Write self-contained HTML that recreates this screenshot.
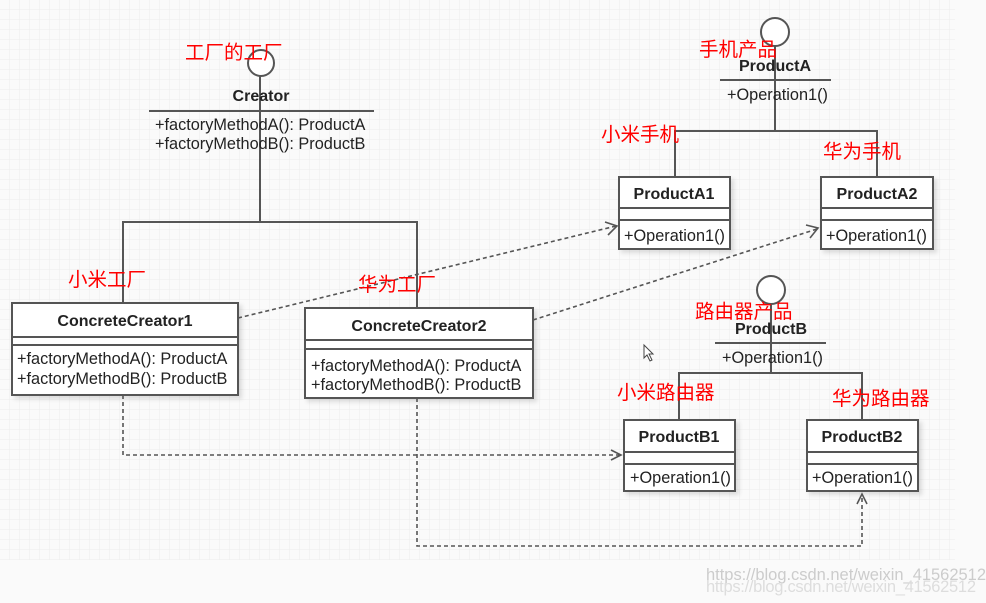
<!DOCTYPE html>
<html><head><meta charset="utf-8"><style>
html,body{margin:0;padding:0;background:#fff;}
svg{display:block;}
.b{font-family:"Liberation Sans",sans-serif;font-weight:bold;font-size:16px;fill:#222;}
.t{font-family:"Liberation Sans",sans-serif;font-size:16.3px;fill:#222;}
.r{font-family:"Liberation Sans","Noto Sans CJK SC",sans-serif;font-size:19.5px;fill:#f00;}
</style></head><body>
<svg width="986" height="603" viewBox="0 0 986 603" xmlns="http://www.w3.org/2000/svg">
<defs>
<pattern id="g" width="10" height="10" patternUnits="userSpaceOnUse">
<path d="M10 0V10H0" fill="none" stroke="#ececec" stroke-width="1"/>
</pattern>
<filter id="s" x="-10%" y="-10%" width="130%" height="130%"><feDropShadow dx="3" dy="3" stdDeviation="2" flood-color="#000" flood-opacity="0.12"/></filter>
</defs>
<rect width="986" height="603" fill="#fafafa"/>
<rect width="955" height="560" fill="url(#g)"/>
<g stroke="#555" stroke-width="2" fill="none">
<circle cx="261" cy="63" r="13" fill="#fff"/>
<line x1="149" y1="111" x2="374" y2="111"/>
<polyline points="260,76 260,222"/>
<polyline points="123,303 123,222 417,222 417,308"/>
<circle cx="775" cy="32" r="14" fill="#fff"/>
<line x1="720" y1="80" x2="831" y2="80"/>
<polyline points="775,46 775,131"/>
<polyline points="675,177 675,131 877,131 877,177"/>
<circle cx="771" cy="290" r="14" fill="#fff"/>
<line x1="715" y1="343" x2="826" y2="343"/>
<polyline points="771,304 771,373"/>
<polyline points="679,420 679,373 862,373 862,420"/>
</g>
<g stroke="#555" stroke-width="2" fill="#fff" filter="url(#s)">
<rect x="12" y="303" width="226" height="92"/>
<rect x="305" y="308" width="228" height="90"/>
<rect x="619" y="177" width="111" height="72"/>
<rect x="821" y="177" width="112" height="72"/>
<rect x="624" y="420" width="111" height="71"/>
<rect x="807" y="420" width="111" height="71"/>
</g>
<g stroke="#555" stroke-width="2">
<line x1="12" y1="337" x2="238" y2="337"/><line x1="12" y1="345" x2="238" y2="345"/>
<line x1="305" y1="340" x2="533" y2="340"/><line x1="305" y1="349" x2="533" y2="349"/>
<line x1="619" y1="208" x2="730" y2="208"/><line x1="619" y1="220" x2="730" y2="220"/>
<line x1="821" y1="208" x2="933" y2="208"/><line x1="821" y1="220" x2="933" y2="220"/>
<line x1="624" y1="452" x2="735" y2="452"/><line x1="624" y1="464" x2="735" y2="464"/>
<line x1="807" y1="452" x2="918" y2="452"/><line x1="807" y1="464" x2="918" y2="464"/>
</g>
<g stroke="#555" stroke-width="1.6" fill="none" stroke-dasharray="4,3">
<line x1="238" y1="318" x2="616" y2="226"/>
<line x1="533" y1="320" x2="817" y2="229"/>
<polyline points="123,395 123,455 620,455"/>
<polyline points="417,398 417,546 862,546 862,494"/>
</g>
<g stroke="#555" stroke-width="1.6" fill="none">
<polyline points="605,222 617,226 608,235"/>
<polyline points="806,225 818,228 810,238"/>
<polyline points="611,450 621,455 611,460"/>
<polyline points="857,504 862,494 867,504"/>
</g>
<text class="b" x="261" y="101" text-anchor="middle">Creator</text>
<text class="t" x="155" y="130">+factoryMethodA(): ProductA</text>
<text class="t" x="155" y="149">+factoryMethodB(): ProductB</text>
<text class="b" x="125" y="326" text-anchor="middle">ConcreteCreator1</text>
<text class="t" x="17" y="364">+factoryMethodA(): ProductA</text>
<text class="t" x="17" y="384">+factoryMethodB(): ProductB</text>
<text class="b" x="419" y="331" text-anchor="middle">ConcreteCreator2</text>
<text class="t" x="311" y="371">+factoryMethodA(): ProductA</text>
<text class="t" x="311" y="390">+factoryMethodB(): ProductB</text>
<text class="b" x="775" y="71" text-anchor="middle">ProductA</text>
<text class="t" x="727" y="100">+Operation1()</text>
<text class="b" x="674" y="199" text-anchor="middle">ProductA1</text>
<text class="t" x="624" y="241">+Operation1()</text>
<text class="b" x="877" y="199" text-anchor="middle">ProductA2</text>
<text class="t" x="826" y="241">+Operation1()</text>
<text class="b" x="771" y="334" text-anchor="middle">ProductB</text>
<text class="t" x="722" y="363">+Operation1()</text>
<text class="b" x="679" y="442" text-anchor="middle">ProductB1</text>
<text class="t" x="630" y="483">+Operation1()</text>
<text class="b" x="862" y="442" text-anchor="middle">ProductB2</text>
<text class="t" x="812" y="483">+Operation1()</text>
<text class="r" x="185" y="59">工厂的工厂</text>
<text class="r" x="68" y="286">小米工厂</text>
<text class="r" x="358" y="291">华为工厂</text>
<text class="r" x="699" y="56">手机产品</text>
<text class="r" x="601" y="141">小米手机</text>
<text class="r" x="823" y="158">华为手机</text>
<text class="r" x="695" y="318">路由器产品</text>
<text class="r" x="617" y="399">小米路由器</text>
<text class="r" x="832" y="405">华为路由器</text>
<path d="M644 345 L644 358 L647 355 L650 361 L652 360 L649 354 L653 354 Z" fill="#fff" stroke="#444" stroke-width="1"/>
<text x="706" y="580" font-family="Liberation Sans,sans-serif" font-size="16.5" fill="#ccc" textLength="280">https://blog.csdn.net/weixin_41562512</text>
<text x="706" y="592" font-family="Liberation Sans,sans-serif" font-size="16.5" fill="#ddd" textLength="270">https://blog.csdn.net/weixin_41562512</text>
</svg>
</body></html>
